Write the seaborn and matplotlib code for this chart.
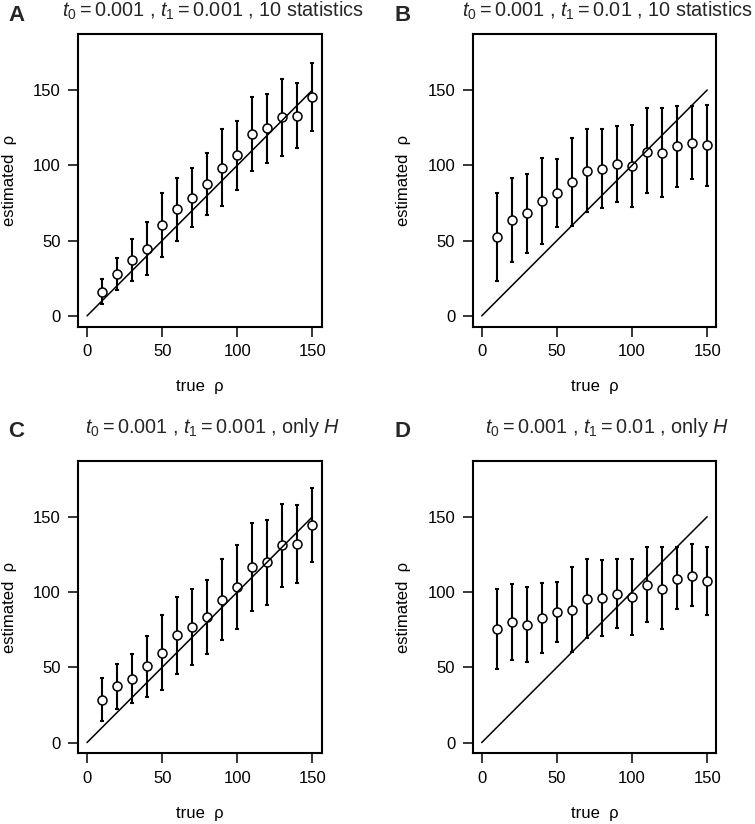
import numpy as np
import matplotlib
matplotlib.use("Agg")
import matplotlib.pyplot as plt
import seaborn as sns

# true rho values (same for every panel)
true_rho = [10, 20, 30, 40, 50, 60, 70, 80, 90, 100, 110, 120, 130, 140, 150]

# panel A: t0=0.001, t1=0.001, 10 statistics
est_a = [16, 27.5, 37, 44.7, 60.2, 70.7, 78.2, 87.3, 98.2, 106.7, 121, 124.7, 131.8, 132.9, 145.1]
low_a = [8, 17.3, 22.9, 27.3, 39.1, 50, 58.9, 66.7, 72.7, 83.8, 96.2, 101.8, 106.2, 111.5, 122.7]
up_a = [24.2, 38.2, 50.9, 62.2, 81.5, 91.5, 98.2, 108, 123.8, 129.5, 145.5, 147.1, 157.1, 154.7, 167.8]

# panel B: t0=0.001, t1=0.01, 10 statistics
est_b = [52.4, 63.6, 68, 76.2, 81.5, 89.1, 96.2, 97.6, 100.7, 99.3, 109.1, 108.2, 112.7, 115.1, 113.3]
low_b = [23.1, 36, 41.6, 47.8, 59.1, 60, 69.3, 71.8, 75.6, 72, 81.8, 78.9, 85.3, 90.9, 86.4]
up_b = [81.8, 91.3, 94.2, 104.7, 104.4, 118.2, 123.8, 123.8, 126, 126.7, 137.8, 137.8, 139.6, 139.1, 140.2]

# panel C: t0=0.001, t1=0.001, only H
est_c = [28.4, 37.3, 42.4, 50.7, 59.6, 71.3, 76.9, 83.6, 94.9, 103.6, 116.4, 119.6, 130.9, 131.8, 144.2]
low_c = [14.2, 22.4, 26, 30.2, 34.9, 45.8, 51.6, 58.7, 68, 75.6, 87.3, 91.5, 103.6, 105.8, 119.6]
up_c = [42.7, 52.4, 58.9, 71.1, 84.7, 96.9, 102, 108, 121.8, 130.9, 145.5, 147.8, 158.2, 157.6, 169.3]

# panel D: t0=0.001, t1=0.01, only H
est_d = [75.3, 80.2, 78.4, 82.9, 86.7, 88.2, 95.5, 95.8, 98.9, 96.7, 104.9, 102.2, 108.7, 110.9, 107.1]
low_d = [48.7, 55.1, 53.3, 59.6, 66.7, 60.2, 69.6, 70.7, 76, 71.3, 79.8, 75.3, 88.7, 90.7, 84.7]
up_d = [102.2, 105.6, 103.6, 106.2, 106.9, 116.7, 121.6, 121.1, 121.6, 122.2, 130.2, 130.2, 130.2, 131.6, 130.2]

letters = ["A", "B", "C", "D"]
titles = [
    r"$t_0 = 0.001$ , $t_1 = 0.001$ , 10 statistics",
    r"$t_0 = 0.001$ , $t_1 = 0.01$ , 10 statistics",
    r"$t_0 = 0.001$ , $t_1 = 0.001$ , only $H$",
    r"$t_0 = 0.001$ , $t_1 = 0.01$ , only $H$",
]
panels = [(est_a, low_a, up_a), (est_b, low_b, up_b),
          (est_c, low_c, up_c), (est_d, low_d, up_d)]
diag = [0, 150]

sns.set_theme(style="white")
plt.rcParams["font.family"] = ["Liberation Sans", "DejaVu Sans"]
plt.rcParams["mathtext.fontset"] = "custom"
plt.rcParams["mathtext.rm"] = "Liberation Sans"
plt.rcParams["mathtext.it"] = "Liberation Sans:italic"

W, H = 755, 824
fig = plt.figure(figsize=(W / 100, H / 100), dpi=100)

# axes boxes in pixels: left, top
boxes = [(78, 34), (472.7, 34), (78, 460.7), (472.7, 460.7)]
bw, bh = 243.5, 292.7

for i, (est, low, up) in enumerate(panels):
    left, top = boxes[i]
    ax = fig.add_axes([left / W, (H - top - bh) / H, bw / W, bh / H])
    est = np.array(est)
    yerr = [est - np.array(low), np.array(up) - est]
    ax.errorbar(true_rho, est, yerr=yerr, fmt="none", ecolor="black",
                elinewidth=1.5, capsize=1.6, capthick=1.5, zorder=2)
    sns.scatterplot(x=true_rho, y=est, ax=ax, marker="o", s=42,
                    facecolor="white", edgecolor="black", linewidth=1.1, zorder=3)
    sns.lineplot(x=diag, y=diag, ax=ax, color="black", linewidth=1.1, zorder=4)
    ax.set_xlim(-6, 156)
    ax.set_ylim(-7.2, 187.2)
    ax.set_xticks([0, 50, 100, 150])
    ax.set_yticks([0, 50, 100, 150])
    ax.tick_params(direction="out", length=7.5, width=1.1, labelsize=12,
                   colors="black", pad=5, bottom=True, left=True)
    for s in ax.spines.values():
        s.set_color("black")
        s.set_linewidth(1.5)
    ax.set_xlabel("true  ρ", fontsize=12, color="black", va="center")
    ax.set_ylabel("estimated  ρ", fontsize=12, color="black", va="center")
    ax.xaxis.set_label_coords(0.5, -0.205)
    ax.yaxis.set_label_coords(-0.283, 0.5)

    # panel letter and title
    lx = 8 if i % 2 == 0 else 395
    row_top = 0 if i < 2 else 416
    fig.text(lx / W, 1 - (row_top + 5) / H, letters[i], fontsize=16,
             fontweight="bold", ha="left", va="top")
    fig.text((left + bw / 2 + 13) / W, 1 - (row_top + 17) / H, titles[i],
             fontsize=14.3, ha="center", va="baseline")

fig.savefig("out.png", dpi=100)
